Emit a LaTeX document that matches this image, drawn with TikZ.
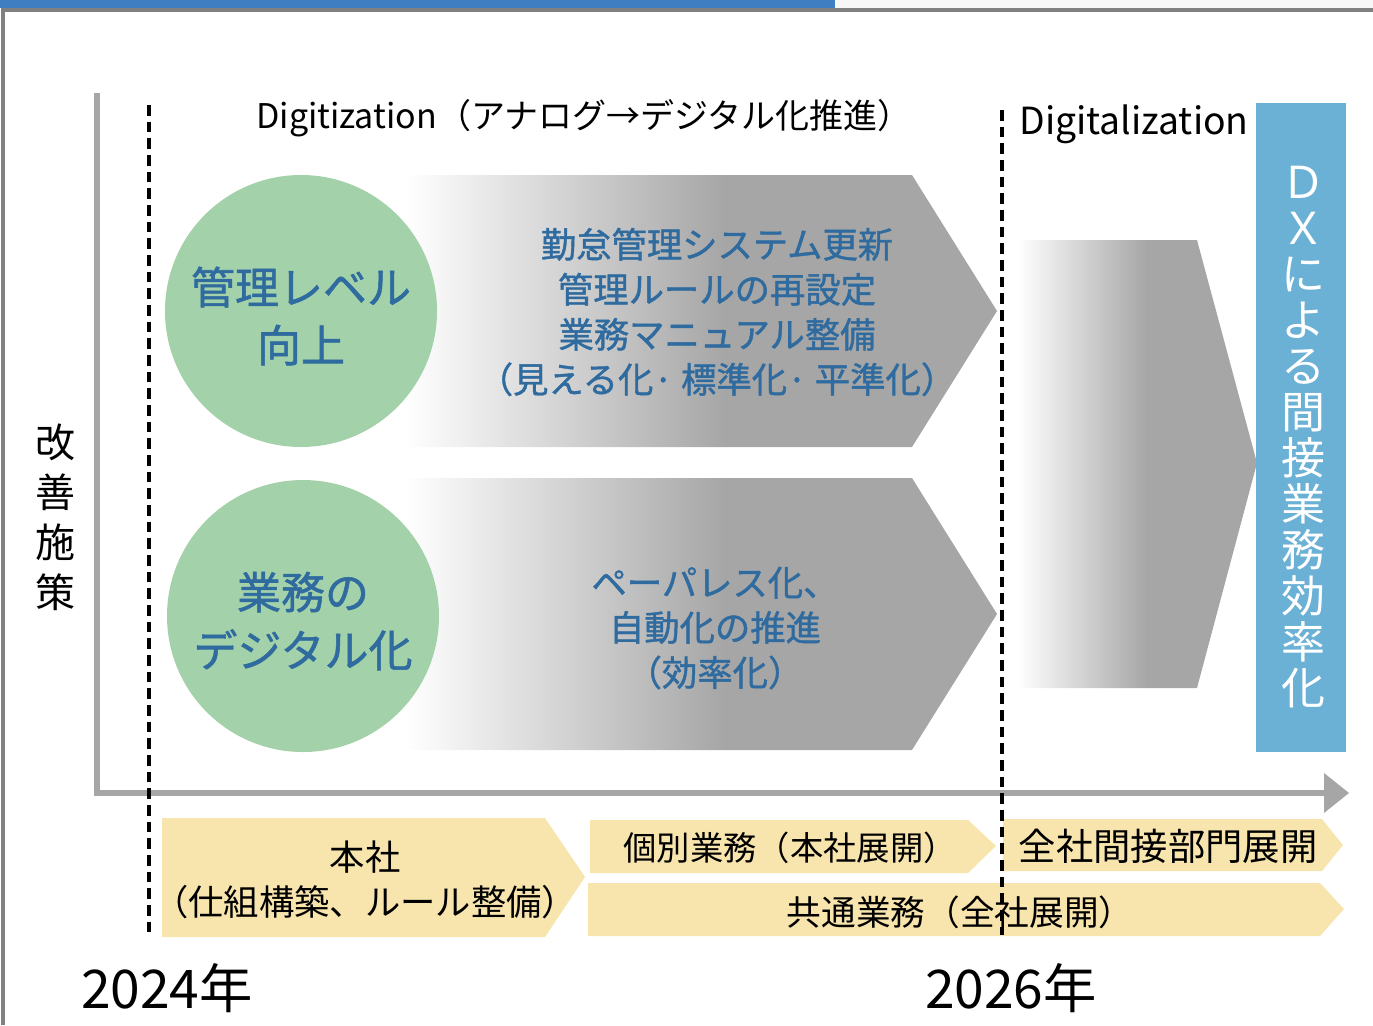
\documentclass[tikz,border=0pt]{standalone}
\usepackage{fontspec}
\setmainfont{Noto Sans CJK JP}
\newfontfamily\jpm[FakeBold=1.2]{Noto Sans CJK JP}
\definecolor{topblue}{HTML}{3F7EC1}
\definecolor{framegray}{HTML}{808080}
\definecolor{axisgray}{HTML}{A6A6A6}
\definecolor{chevgray}{HTML}{A6A6A6}
\definecolor{circgreen}{HTML}{A3D1AA}
\definecolor{txtblue}{HTML}{2F6B9F}
\definecolor{paleyellow}{HTML}{F8E4AD}
\definecolor{dxblue}{HTML}{6BB1D6}
\pgfdeclarehorizontalshading{fadegray}{100bp}{color(0bp)=(white); color(25bp)=(white); color(52bp)=(chevgray); color(100bp)=(chevgray)}
\tikzset{
  chev/.style={shading=fadegray, draw=none},
  circ/.style={fill=circgreen, draw=none},
  yel/.style={fill=paleyellow, draw=none},
  bluetxt/.style={text=txtblue, font=\jpm\fontsize{26.5pt}{33.75pt}\selectfont, align=center, inner sep=0pt},
  circtxt/.style={text=txtblue, font=\jpm\fontsize{33pt}{43.5pt}\selectfont, align=center, inner sep=0pt},
  blacktxt/.style={text=black, font=\fontsize{25pt}{33.75pt}\selectfont, align=center, inner sep=0pt},
  yeartxt/.style={text=black, font=\fontsize{40pt}{44pt}\selectfont, inner sep=0pt},
  vdash/.style={draw=black, line width=3pt, dash pattern=on 8pt off 4.5pt},
}
\begin{document}
\begin{tikzpicture}[x=0.75pt, y=-0.75pt]
\useasboundingbox (0,0) rectangle (1373,1025);
% top bar and frame
\fill[topblue] (0,0) rectangle (835,8);
\fill[black!3] (835,0) rectangle (1373,8);
\draw[framegray, line width=3.5pt] (3,1025) -- (3,10) -- (1373,10);
% axes
\coordinate (ytop) at (97,93);
\coordinate (origin) at (97,793);
\coordinate (xend) at (1330,793);
\draw[axisgray, line width=4.5pt] (ytop) -- (origin) -- (xend);
\fill[axisgray] (1324,773) -- (1349,793) -- (1324,813) -- cycle;
% gray chevrons
\path[chev] (405,175) -- (912,175) -- (997,311) -- (912,447) -- (405,447) -- cycle;
\path[chev] (405,478) -- (912,478) -- (997,614) -- (912,750) -- (405,750) -- cycle;
\path[chev] (1018,240) -- (1197,240) -- (1257,463) -- (1197,688) -- (1018,688) -- cycle;
% circles
\fill[circ] (301,311) circle (136);
\fill[circ] (303,616) circle (136);
% DX rect
\fill[dxblue] (1256,103) rectangle (1346,752);
% yellow arrows
\path[yel] (162,818) -- (545,818) -- (585,877) -- (545,937) -- (162,937) -- cycle;
\path[yel] (590,820) -- (968,820) -- (996,846) -- (968,873) -- (590,873) -- cycle;
\path[yel] (1003,819) -- (1322,819) -- (1343,845) -- (1322,871) -- (1003,871) -- cycle;
\path[yel] (588,883) -- (1320,883) -- (1344,909) -- (1320,936) -- (588,936) -- cycle;
% dashed lines
\coordinate (d1t) at (149,105);
\coordinate (d1b) at (149,935);
\coordinate (d2t) at (1002,110);
\coordinate (d2b) at (1002,935);
\draw[vdash] (d1t) -- (d1b);
\draw[vdash] (d2t) -- (d2b);
% texts
\node[blacktxt, font=\fontsize{25.5pt}{30pt}\selectfont] (digi) at (584,118) {Digitization（アナログ→デジタル化推進）};
\node[blacktxt, font=\fontsize{28pt}{30pt}\selectfont] (digl) at (1134,124) {Digitalization};
\node[bluetxt] (t1) at (717,312) {勤怠管理システム更新\\管理ルールの再設定\\業務マニュアル整備\\（見える化· 標準化· 平準化）};
\node[bluetxt] (t2) at (715,628) {ペーパレス化、\\自動化の推進\\（効率化）};
\node[circtxt] (c1) at (301,316) {管理レベル\\向上};
\node[circtxt] (c2) at (303,621) {業務の\\デジタル化};
\node[blacktxt, font=\fontsize{30pt}{37.5pt}\selectfont] (kaizen) at (55,517) {改\\善\\施\\策};
\node[text=white, font=\fontsize{33pt}{34.5pt}\selectfont, align=center, inner sep=0pt] (dx) at (1303,437) {Ｄ\\Ｘ\\に\\よ\\る\\間\\接\\業\\務\\効\\率\\化};
\node[blacktxt, font=\fontsize{26.5pt}{33.75pt}\selectfont] (b1) at (365,880) {本社\\（仕組構築、ルール整備）};
\node[blacktxt] (b2) at (790,848) {個別業務（本社展開）};
\node[blacktxt, font=\fontsize{28pt}{33.75pt}\selectfont] (b3) at (1168,846) {全社間接部門展開};
\node[blacktxt, font=\fontsize{26pt}{33.75pt}\selectfont] (b4) at (960,912) {共通業務（全社展開）};
\node[yeartxt] (y1) at (167,988) {2024年};
\node[yeartxt] (y2) at (1011,988) {2026年};
\end{tikzpicture}
\end{document}
